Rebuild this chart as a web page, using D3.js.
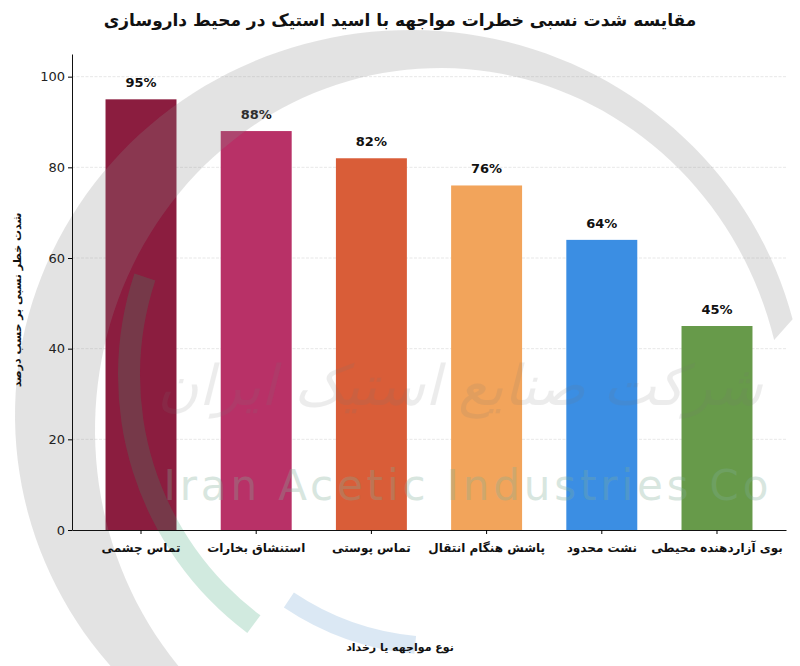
<!DOCTYPE html>
<html>
<head>
<meta charset="utf-8">
<script src="https://cdn.jsdelivr.net/npm/d3@7"></script>
<style>
  body { margin: 0; background: #fff; }
  svg { display: block; font-family: 'DejaVu Sans', sans-serif; }
</style>
</head>
<body>
<script>
/* global d3 */
var categories = ['تماس چشمی', 'استنشاق بخارات', 'تماس پوستی', 'پاشش هنگام انتقال', 'نشت محدود', 'بوی آزاردهنده محیطی']
var values = [95, 88, 82, 76, 64, 45]
var colors = ['#8b1d3f', '#b83167', '#d95d38', '#f2a45b', '#3b8ee3', '#679a4a']
var yTicks = [0, 20, 40, 60, 80, 100]

var title = 'مقایسه شدت نسبی خطرات مواجهه با اسید استیک در محیط داروسازی'
var xLabel = 'نوع مواجهه یا رخداد'
var yLabel = 'شدت خطر نسبی بر حسب درصد'

var W = 800
var H = 666
var margin = {top: 54, right: 14, bottom: 136, left: 72}
var width = W - margin.left - margin.right
var height = H - margin.top - margin.bottom

var svg = d3.select('body').append('svg')
  .attr('width', W)
  .attr('height', H)

var x = d3.scaleBand()
  .domain(categories)
  .range([margin.left, margin.left + width])
  .paddingInner(0.384)
  .paddingOuter(0.291)

var y = d3.scaleLinear()
  .domain([0, 105])
  .range([margin.top + height, margin.top])

// grid
svg.append('g')
  .selectAll('line')
  .data(yTicks.slice(1))
  .enter().append('line')
  .attr('x1', margin.left)
  .attr('x2', margin.left + width)
  .attr('y1', function (d) { return y(d) })
  .attr('y2', function (d) { return y(d) })
  .attr('stroke', '#cfcfcf')
  .attr('stroke-width', 0.8)
  .attr('stroke-dasharray', '3,1.5')
  .attr('opacity', 0.6)

// bars
svg.append('g')
  .selectAll('rect')
  .data(values)
  .enter().append('rect')
  .attr('x', function (d, i) { return x(categories[i]) })
  .attr('y', function (d) { return y(d) })
  .attr('width', x.bandwidth())
  .attr('height', function (d) { return y(0) - y(d) })
  .attr('fill', function (d, i) { return colors[i] })

// value labels
svg.append('g')
  .selectAll('text')
  .data(values)
  .enter().append('text')
  .attr('x', function (d, i) { return x(categories[i]) + x.bandwidth() / 2 })
  .attr('y', function (d) { return y(d) - 12 })
  .attr('text-anchor', 'middle')
  .attr('font-size', 13)
  .attr('font-weight', 'bold')
  .attr('fill', '#111')
  .text(function (d) { return d + '%' })

// watermark (logo in the background)
function crescent (o, n, a0, a1) {
  var steps = d3.range(0, 121).map(function (k) { return a0 + (a1 - a0) * k / 120 })
  var outer = steps.map(function (a) { return [o.cx + o.rx * Math.cos(a), o.cy + o.ry * Math.sin(a)] })
  var inner = steps.slice().reverse().map(function (a) { return [n.cx + n.rx * Math.cos(a), n.cy + n.ry * Math.sin(a)] })
  return d3.line()(outer.concat(inner)) + 'Z'
}
var wm = svg.append('g').attr('pointer-events', 'none')
wm.append('path')
  .attr('d', crescent({cx: 410, cy: 415, rx: 395, ry: 385}, {cx: 440, cy: 430, rx: 345, ry: 362}, Math.PI * 0.6, Math.PI * 1.92))
  .attr('fill', '#8a8a8a')
  .attr('opacity', 0.24)
wm.append('path')
  .attr('transform', 'translate(440,375)')
  .attr('d', d3.arc().innerRadius(300).outerRadius(322).startAngle(-2.5).endAngle(-1.25)())
  .attr('fill', '#2f9e6c')
  .attr('opacity', 0.22)
wm.append('path')
  .attr('transform', 'translate(440,375)')
  .attr('d', d3.arc().innerRadius(262).outerRadius(280).startAngle(-3.05).endAngle(-2.55)())
  .attr('fill', '#3a7fc0')
  .attr('opacity', 0.18)
wm.append('text')
  .attr('x', 460)
  .attr('y', 405)
  .attr('text-anchor', 'middle')
  .attr('font-size', 56)
  .attr('font-style', 'italic')
  .attr('fill', '#777')
  .attr('opacity', 0.13)
  .text('شرکت صنایع استیک ایران')
wm.append('text')
  .attr('x', 466)
  .attr('y', 500)
  .attr('text-anchor', 'middle')
  .attr('font-size', 42)
  .attr('textLength', 605)
  .attr('lengthAdjust', 'spacing')
  .attr('fill', '#7fae98')
  .attr('opacity', 0.3)
  .text('Iran Acetic Industries Co')

// axes
var yAxis = d3.axisLeft(y)
  .tickValues(yTicks)
  .tickSize(4)
  .tickSizeOuter(0)
svg.append('g')
  .attr('class', 'y axis')
  .attr('transform', 'translate(' + margin.left + ',0)')
  .call(yAxis)
  .call(function (g) {
    g.selectAll('text').attr('font-size', 13).attr('fill', '#222').attr('font-family', 'DejaVu Sans')
  })

var xAxis = d3.axisBottom(x)
  .tickSize(4)
  .tickSizeOuter(0)
svg.append('g')
  .attr('class', 'x axis')
  .attr('transform', 'translate(0,' + (margin.top + height) + ')')
  .call(xAxis)
  .call(function (g) {
    g.selectAll('text')
      .attr('font-size', 12)
      .attr('font-weight', 'bold')
      .attr('fill', '#111')
      .attr('dy', '1.25em')
      .attr('font-family', 'DejaVu Sans')
  })
svg.selectAll('.domain').attr('stroke', '#111')

svg.append('text')
  .attr('x', W / 2)
  .attr('y', 26)
  .attr('text-anchor', 'middle')
  .attr('font-size', 17)
  .attr('font-weight', 'bold')
  .attr('fill', '#111')
  .text(title)

svg.append('text')
  .attr('x', W / 2)
  .attr('y', 651)
  .attr('text-anchor', 'middle')
  .attr('font-size', 11)
  .attr('font-weight', 'bold')
  .attr('fill', '#111')
  .text(xLabel)

svg.append('text')
  .attr('transform', 'translate(21,' + 300 + ') rotate(-90)')
  .attr('text-anchor', 'middle')
  .attr('font-size', 11)
  .attr('font-weight', 'bold')
  .attr('fill', '#111')
  .text(yLabel)
</script>
</body>
</html>
